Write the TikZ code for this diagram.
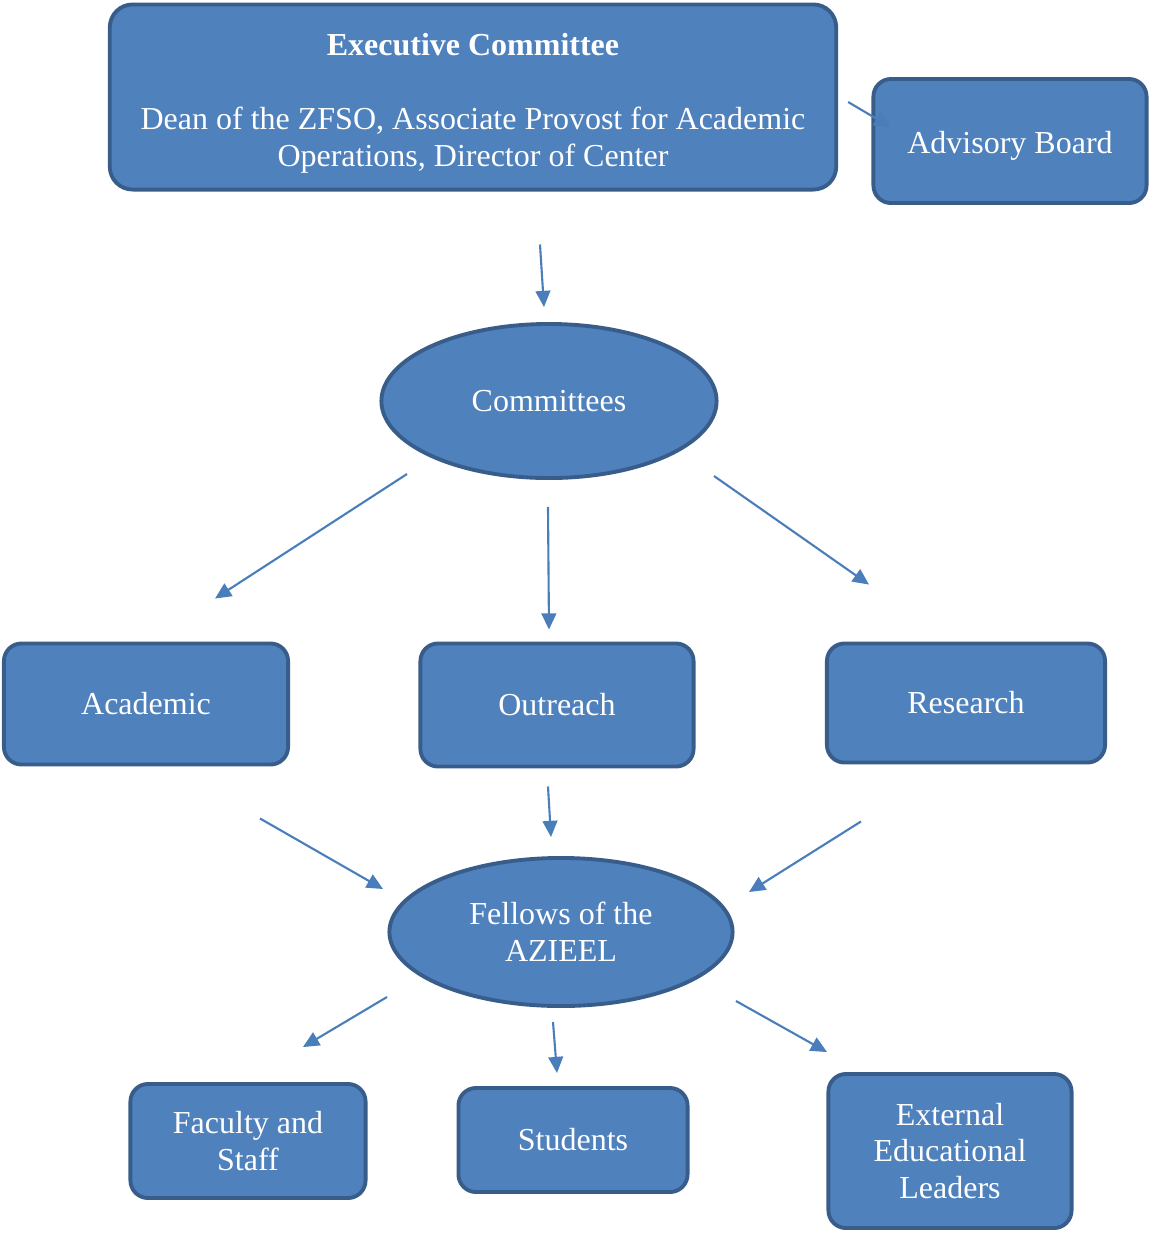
\documentclass[tikz,border=0pt]{standalone}
\usepackage{fontspec}
\setmainfont{Liberation Serif}
\usepackage{tikz}
\usetikzlibrary{arrows.meta}
\usetikzlibrary{shapes.geometric, calc}
\definecolor{boxBlue}{HTML}{4F81BD}
\definecolor{boxEdge}{HTML}{385D8A}
\definecolor{arrBlue}{HTML}{4A7EBB}

\begin{document}
\begin{tikzpicture}[x=0.01cm, y=-0.01cm, inner sep=0pt, font=\fontsize{9.1}{10.5}\selectfont]
            \useasboundingbox (0,0) rectangle (1150,1235);

            \tikzstyle{myBox}=[draw=boxEdge, fill=boxBlue, line width=1.1pt, rounded corners=5pt, text=white, align=center];
            \tikzstyle{myEll}=[myBox, ellipse];
            \tikzstyle{myArr}=[draw=arrBlue, line width=0.6pt, -{Triangle[length=4.6pt,width=4.2pt]}];

            \node[myBox, minimum width=7.26cm, minimum height=1.85cm, rounded corners=6.5pt] (1) at (473,97) {\rule{0pt}{10pt}\textbf{Executive Committee}\\[10.5pt] Dean of the ZFSO, Associate Provost for Academic\\ Operations, Director of Center};
            \node[myBox, minimum width=2.73cm, minimum height=1.24cm] (2) at (1010,141) {\rule{0pt}{9.2pt}Advisory Board};
            \node[myEll, minimum width=3.35cm, minimum height=1.54cm] (3) at (549,401) {Committees};
            \node[myBox, minimum width=2.84cm, minimum height=1.21cm] (4) at (146,704) {Academic};
            \node[myBox, minimum width=2.73cm, minimum height=1.23cm] (5) at (557,705) {Outreach};
            \node[myBox, minimum width=2.78cm, minimum height=1.19cm] (6) at (966,703) {Research};
            \node[myEll, minimum width=3.43cm, minimum height=1.48cm] (7) at (561,932) {Fellows of the\\ AZIEEL};
            \node[myBox, minimum width=2.35cm, minimum height=1.14cm] (8) at (248,1141) {Faculty and\\ Staff};
            \node[myBox, minimum width=2.29cm, minimum height=1.04cm] (9) at (573,1140) {Students};
            \node[myBox, minimum width=2.43cm, minimum height=1.54cm] (10) at (950,1151) {External\\ Educational\\ Leaders};

            \draw[myArr] ($(1.south)+(67,53)$) -- ($(3.north)+(-5,-15)$);
            \draw[myArr] ($(1.east)+(10,5)$) -- ($(2.west)+(19,-14)$);
            \draw[myArr] ($(3)+(-142,73)$) -- ($(4.north)+(69,-43)$);
            \draw[myArr] ($(3.south)+(-1,27)$) -- ($(5.north)+(-8,-12)$);
            \draw[myArr] ($(3)+(165,75)$) -- ($(6.north)+(-97,-57)$);
            \draw[myArr] ($(4.south)+(114,52)$) -- ($(7)+(-178,-43)$);
            \draw[myArr] ($(5.south)+(-9,18)$) -- ($(7.north)+(-10,-19)$);
            \draw[myArr] ($(6.south)+(-105,57)$) -- ($(7)+(188,-40)$);
            \draw[myArr] ($(7)+(-174,65)$) -- ($(8.north)+(55,-35)$);
            \draw[myArr] ($(7.south)+(-8,14)$) -- ($(9.north)+(-16,-13)$);
            \draw[myArr] ($(7)+(175,69)$) -- ($(10.north)+(-123,-20)$);
         \end{tikzpicture}
\end{document}
